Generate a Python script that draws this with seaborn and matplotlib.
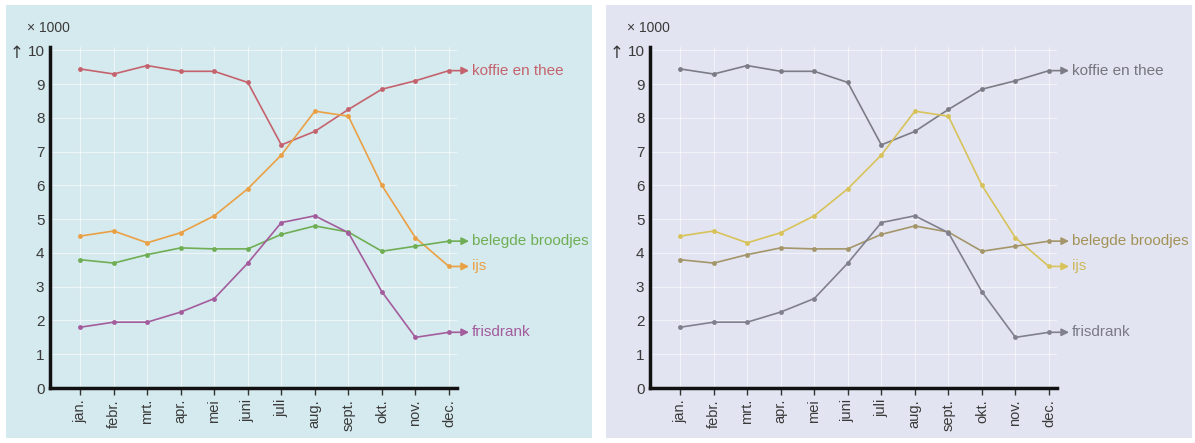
import matplotlib
matplotlib.use("Agg")
import matplotlib.pyplot as plt
from matplotlib.patches import Rectangle
import seaborn as sns
import pandas as pd

# Data (x 1000)
months = ["jan.", "febr.", "mrt.", "apr.", "mei", "juni", "juli", "aug.", "sept.", "okt.", "nov.", "dec."]
koffie = [9.45, 9.3, 9.55, 9.38, 9.38, 9.05, 7.2, 7.6, 8.25, 8.85, 9.1, 9.4]
ijs = [4.5, 4.65, 4.3, 4.6, 5.1, 5.9, 6.9, 8.2, 8.05, 6.0, 4.45, 3.6]
broodjes = [3.8, 3.7, 3.95, 4.15, 4.12, 4.12, 4.55, 4.8, 4.62, 4.05, 4.2, 4.35]
frisdrank = [1.8, 1.95, 1.95, 2.25, 2.65, 3.7, 4.9, 5.1, 4.6, 2.85, 1.5, 1.65]
series_names = ["koffie en thee", "ijs", "belegde broodjes", "frisdrank"]

df = pd.DataFrame({"maand": list(range(12)) * 4,
                   "waarde": koffie + ijs + broodjes + frisdrank,
                   "soort": [n for n in series_names for _ in range(12)]})

colors_left = {"koffie en thee": "#c4636e", "ijs": "#eaa044",
               "belegde broodjes": "#6fae55", "frisdrank": "#a35c9c"}
colors_right = {"koffie en thee": "#7c7c86", "ijs": "#d8c25a",
                "belegde broodjes": "#a4956a", "frisdrank": "#80808e"}
text_right = {"koffie en thee": "#75757e", "ijs": "#cdb758",
              "belegde broodjes": "#a39258", "frisdrank": "#7a7a88"}

sns.set_style("white")
plt.rcParams["font.family"] = ["Liberation Sans", "DejaVu Sans"]

W, H = 1195, 443
fig = plt.figure(figsize=(W / 100, H / 100), dpi=100)
fig.patch.set_facecolor("white")

# panel backgrounds
fig.patches.append(Rectangle((6 / W, 5 / H), 586 / W, 433 / H, transform=fig.transFigure,
                             facecolor="#d5eaee", edgecolor="none", zorder=-5))
fig.patches.append(Rectangle((606 / W, 5 / H), 586 / W, 433 / H, transform=fig.transFigure,
                             facecolor="#e2e5f1", edgecolor="none", zorder=-5))

for offset, cols, tcols in [(0, colors_left, colors_left), (600, colors_right, text_right)]:
    ax = fig.add_axes([(50 + offset) / W, (443 - 388) / H, 407 / W, 341 / H])
    ax.patch.set_alpha(0)
    ax.set_xlim(-0.9, 11.24)
    ax.set_ylim(0, 10.1)
    ax.grid(True, color="white", lw=0.8, alpha=0.55)
    ax.set_axisbelow(True)

    for name in series_names:
        sub = df[df["soort"] == name]
        sns.lineplot(data=sub, x="maand", y="waarde", ax=ax, color=cols[name], lw=1.2,
                     marker="o", markersize=3.5, markeredgewidth=0, legend=False)
        last = sub["waarde"].iloc[-1]
        ax.annotate("", xy=(11.6, last), xytext=(11, last), annotation_clip=False,
                    arrowprops=dict(arrowstyle="-|>", color=cols[name], lw=1.2,
                                    mutation_scale=11, shrinkA=0, shrinkB=0))
        ax.text(11.68, last, name, color=tcols[name], fontsize=11, va="center",
                ha="left", clip_on=False)

    ax.set_xticks(range(12))
    ax.set_xticklabels(months, rotation=90, fontsize=10.5, color="#3a3a3a")
    ax.set_yticks(range(11))
    ax.set_yticklabels([str(i) for i in range(11)], fontsize=11, color="#3a3a3a")
    ax.tick_params(axis="x", direction="out", length=5, width=1, color="#333333", pad=3, bottom=True)
    ax.tick_params(axis="y", length=0, pad=4)
    ax.set_xlabel("")
    ax.set_ylabel("")
    for s in ["top", "right"]:
        ax.spines[s].set_visible(False)
    for s in ["left", "bottom"]:
        ax.spines[s].set_color("#111111")
        ax.spines[s].set_linewidth(2.5)

    fig.text((27 + offset) / W, 1 - 28 / H, "× 1000", fontsize=10, color="#3a3a3a",
             va="center", ha="left")
    fig.text((10 + offset) / W, 1 - 53 / H, "↑", fontsize=12, color="#3a3a3a",
             va="center", ha="left", family="DejaVu Sans")

fig.savefig("out.png", dpi=100)
